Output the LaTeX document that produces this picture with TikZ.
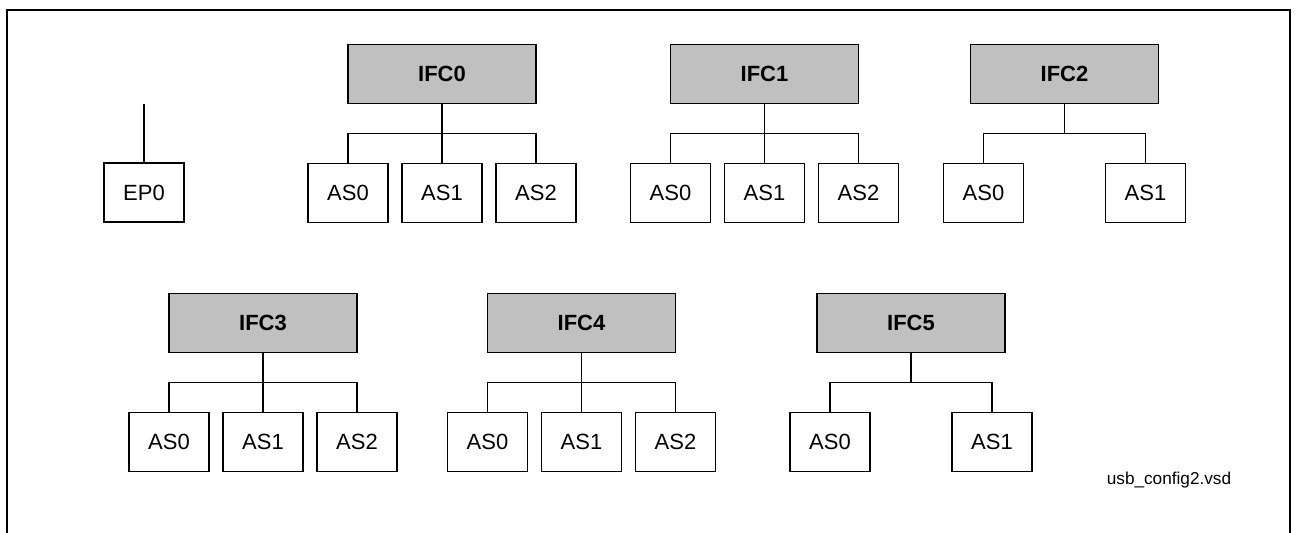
\documentclass[tikz,border=0pt]{standalone}
\usepackage{fontspec}
\setmainfont{Liberation Sans}
\usepackage{xcolor}
\usetikzlibrary{positioning,calc}

\definecolor{ifcgray}{HTML}{C0C0C0}

\begin{document}
\begin{tikzpicture}[
    x=0.5pt, y=-0.5pt,
    asbox/.style={rectangle, draw, line width=0.6pt, minimum width=40pt, minimum height=29.5pt, inner sep=0pt, font=\fontsize{11}{13}\selectfont, fill=white},
    ifcbox/.style={rectangle, draw, line width=0.6pt, minimum width=94pt, minimum height=29.5pt, inner sep=0pt, font=\fontsize{11}{13}\selectfont\bfseries, fill=ifcgray},
    link/.style={line width=0.6pt},
    frame/.style={line width=1.3pt}
]
\useasboundingbox (0,0) rectangle (1298,533);

% ── Frame (open at the bottom) ──
\coordinate (fbl) at (7,533);
\coordinate (ftr) at (1290,10);
\draw[frame] (fbl) |- (ftr) -- (ftr |- fbl);

% ── Endpoint 0 ──
\node[asbox] (ep0) at (144,192.5) {EP0};
\coordinate (ep0top) at (144,104);

% ── Top row interfaces ──
\node[ifcbox] (ifc0) at (442,74) {IFC0};
\node[asbox] (ifc0as0) at (348,193) {AS0};
\node[asbox] (ifc0as1) at (442,193) {AS1};
\node[asbox] (ifc0as2) at (536,193) {AS2};

\node[ifcbox] (ifc1) at (764.5,74) {IFC1};
\node[asbox] (ifc1as0) at (670.5,193) {AS0};
\node[asbox] (ifc1as1) at (764.5,193) {AS1};
\node[asbox] (ifc1as2) at (858.5,193) {AS2};

\node[ifcbox] (ifc2) at (1064.5,74) {IFC2};
\node[asbox] (ifc2as0) at (983.5,193) {AS0};
\node[asbox] (ifc2as1) at (1145.5,193) {AS1};

% ── Bottom row interfaces ──
\node[ifcbox] (ifc3) at (263,323) {IFC3};
\node[asbox] (ifc3as0) at (169,442) {AS0};
\node[asbox] (ifc3as1) at (263,442) {AS1};
\node[asbox] (ifc3as2) at (357,442) {AS2};

\node[ifcbox] (ifc4) at (581.5,323) {IFC4};
\node[asbox] (ifc4as0) at (487.5,442) {AS0};
\node[asbox] (ifc4as1) at (581.5,442) {AS1};
\node[asbox] (ifc4as2) at (675.5,442) {AS2};

\node[ifcbox] (ifc5) at (911,323) {IFC5};
\node[asbox] (ifc5as0) at (830,442) {AS0};
\node[asbox] (ifc5as1) at (992,442) {AS1};

% ── File name ──
\node[font=\fontsize{8.6}{10}\selectfont] (fname) at (1169,480) {usb\_config2.vsd};

% ══════════════════════════════════════
% LINKS — tree buses
% ══════════════════════════════════════

% EP0 stub
\draw[link] (ep0top) -- (ep0.north);

% IFC0
\draw[link] (ifc0.south) -- (ifc0as1.north);
\draw[link] (ifc0as0.north) -- ++(0,-29) -| (ifc0as2.north);

% IFC1
\draw[link] (ifc1.south) -- (ifc1as1.north);
\draw[link] (ifc1as0.north) -- ++(0,-29) -| (ifc1as2.north);

% IFC2
\draw[link] (ifc2.south) -- ++(0,30);
\draw[link] (ifc2as0.north) -- ++(0,-29) -| (ifc2as1.north);

% IFC3
\draw[link] (ifc3.south) -- (ifc3as1.north);
\draw[link] (ifc3as0.north) -- ++(0,-29) -| (ifc3as2.north);

% IFC4
\draw[link] (ifc4.south) -- (ifc4as1.north);
\draw[link] (ifc4as0.north) -- ++(0,-29) -| (ifc4as2.north);

% IFC5
\draw[link] (ifc5.south) -- ++(0,30);
\draw[link] (ifc5as0.north) -- ++(0,-29) -| (ifc5as1.north);

\end{tikzpicture}
\end{document}
